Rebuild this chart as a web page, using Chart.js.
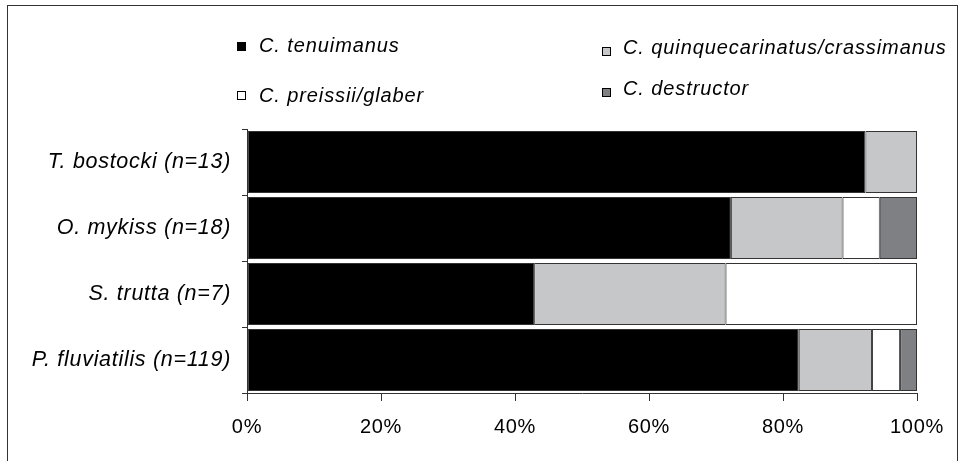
<!DOCTYPE html>
<html>
<head>
<meta charset="utf-8">
<script src="https://cdn.jsdelivr.net/npm/chart.js@4.4.1/dist/chart.umd.min.js"></script>
<style>
  body { margin: 0; background: #fff; }
  canvas { display: block; }
</style>
</head>
<body>
<canvas id="chart" width="960" height="461"></canvas>
<script>
// Categories (top to bottom) and counts per Cherax species
const fishSpecies = ['T. bostocki (n=13)', 'O. mykiss (n=18)', 'S. trutta (n=7)', 'P. fluviatilis (n=119)'];
const sampleSizes = [13, 18, 7, 119];
const tenuimanus = [12, 13, 3, 98];
const quinquecarinatus = [1, 3, 2, 13];
const preissii = [0, 1, 2, 5];
const destructor = [0, 1, 0, 3];
const xTicks = [0, 20, 40, 60, 80, 100];

const FONT = "'Liberation Sans', Arial, sans-serif";
const LINE = '#333333';

function toPercent(counts) {
    return counts.map((c, i) => c / sampleSizes[i] * 100);
}

// a bit of letter spacing so the text width matches the original
const spacingPlugin = {
    id: 'spacing',
    beforeLayout(chart) { chart.ctx.letterSpacing = '0.7px'; },
    beforeDraw(chart) { chart.ctx.letterSpacing = '0.7px'; }
};

// outer frame + hand-placed legend (2 x 2 layout)
const framePlugin = {
    id: 'frame',
    afterDraw(chart) {
        const ctx = chart.ctx;
        ctx.save();
        ctx.strokeStyle = LINE;
        ctx.lineWidth = 1;
        ctx.strokeRect(7.5, 5.5, 950, 480);

        const items = [
            { ds: 0, bx: 237, by: 42, tx: 259, ty: 52 },
            { ds: 1, bx: 602, by: 47, tx: 623, ty: 54 },
            { ds: 2, bx: 237, by: 91, tx: 259, ty: 102 },
            { ds: 3, bx: 602, by: 88, tx: 623, ty: 95 }
        ];
        ctx.font = 'italic 20px ' + FONT;
        ctx.letterSpacing = '0.9px';
        ctx.textBaseline = 'alphabetic';
        ctx.textAlign = 'left';
        items.forEach(it => {
            const d = chart.data.datasets[it.ds];
            ctx.fillStyle = d.backgroundColor;
            ctx.fillRect(it.bx, it.by, 9, 9);
            ctx.strokeStyle = '#000';
            ctx.strokeRect(it.bx + 0.5, it.by + 0.5, 8, 8);
            ctx.fillStyle = '#000';
            ctx.fillText(d.label, it.tx, it.ty);
        });
        ctx.restore();
    }
};

function makeSet(label, counts, color) {
    return {
        label: label,
        data: toPercent(counts),
        backgroundColor: color,
        borderColor: LINE,
        borderWidth: c => (c.raw ? 1 : 0),
        borderSkipped: false,
        barPercentage: 0.94,
        categoryPercentage: 1.0
    };
}

const ctx = document.getElementById('chart').getContext('2d');
new Chart(ctx, {
    type: 'bar',
    data: {
        labels: fishSpecies,
        datasets: [
            makeSet('C. tenuimanus', tenuimanus, '#000000'),
            makeSet('C. quinquecarinatus/crassimanus', quinquecarinatus, '#c6c7c8'),
            makeSet('C. preissii/glaber', preissii, '#ffffff'),
            makeSet('C. destructor', destructor, '#7f8083')
        ]
    },
    options: {
        indexAxis: 'y',
        responsive: false,
        animation: false,
        layout: { padding: { top: 129, right: 43, left: 0, bottom: 0 } },
        plugins: {
            legend: { display: false },
            tooltip: { enabled: false }
        },
        scales: {
            x: {
                stacked: true,
                min: 0,
                max: 100,
                afterBuildTicks: s => { s.ticks = xTicks.map(v => ({ value: v })); },
                ticks: {
                    color: '#000',
                    font: { family: FONT, size: 20 },
                    padding: 14,
                    maxRotation: 0,
                    callback: v => v + '%'
                },
                grid: { drawOnChartArea: false, tickLength: 8, color: LINE },
                border: { color: LINE },
                afterFit: s => { s.height = 68; }
            },
            y: {
                stacked: true,
                ticks: {
                    color: '#000',
                    font: { family: FONT, size: 21.5, style: 'italic' },
                    padding: 11
                },
                grid: { drawOnChartArea: false, tickLength: 5, color: LINE, offset: true },
                border: { color: LINE },
                afterFit: s => { s.width = 247; }
            }
        }
    },
    plugins: [spacingPlugin, framePlugin]
});
</script>
</body>
</html>
